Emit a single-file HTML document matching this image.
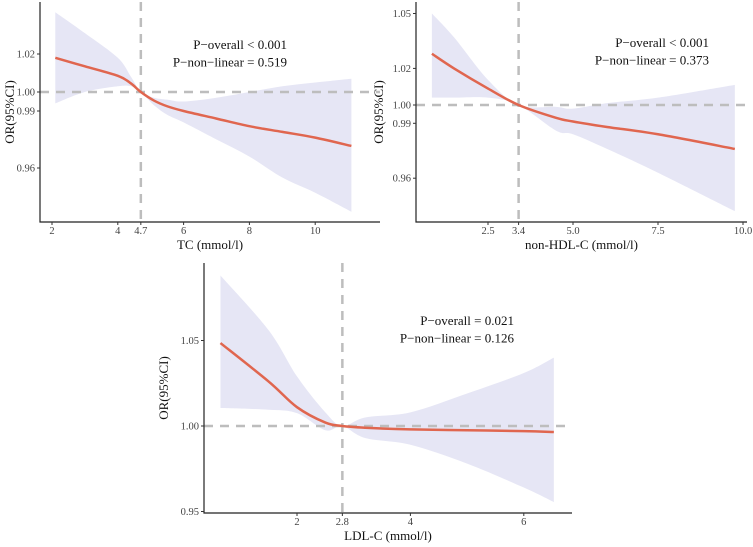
<!DOCTYPE html>
<html><head><meta charset="utf-8"><style>
body{margin:0;background:#fff;}
svg{display:block;font-family:"Liberation Serif",serif;}
</style></head><body>
<svg id="chart" width="753" height="547" viewBox="0 0 753 547"></svg>
<script>
const NS="http://www.w3.org/2000/svg";
const svg=document.getElementById('chart');

// Panel A: TC
const tcX=[2.1,3,4,4.4,4.7,5.1,5.5,6,7,8,9,10,11.1];
const tcOR=[1.018,1.0135,1.0085,1.0045,1.0,0.9955,0.9925,0.990,0.986,0.982,0.979,0.976,0.9716];
const tcUp=[1.042,1.031,1.018,1.008,1.0,0.997,0.996,0.995,0.997,1.0,1.003,1.005,1.007];
const tcLo=[0.994,1.0,1.003,1.003,1.0,0.993,0.988,0.984,0.975,0.966,0.955,0.947,0.937];
const tcXTicks=[2,4,4.7,6,8,10];
const tcYTicks=[0.96,0.99,1.00,1.02];

// Panel B: non-HDL-C
const nhX=[0.85,1.5,2.5,3.4,4.5,5,6,7.5,9.76];
const nhOR=[1.028,1.020,1.009,1.0,0.993,0.991,0.988,0.984,0.976];
const nhUp=[1.050,1.037,1.0137,1.0,0.999,0.998,1.001,1.004,1.011];
const nhLo=[1.004,1.004,1.004,1.0,0.986,0.984,0.976,0.963,0.942];
const nhXTicks=[2.5,3.4,5.0,7.5,10.0];
const nhYTicks=[0.96,0.99,1.00,1.02,1.05];

// Panel C: LDL-C
const ldX=[0.65,1.5,2,2.5,2.8,3.2,4,5,6,6.53];
const ldOR=[1.0485,1.026,1.011,1.002,1.0,0.999,0.998,0.9975,0.997,0.9965];
const ldUp=[1.088,1.056,1.029,1.008,1.0,1.005,1.008,1.019,1.031,1.040];
const ldLo=[1.0105,1.0095,1.0075,0.9975,1.0,0.993,0.989,0.978,0.964,0.9555];
const ldXTicks=[2,2.8,4,6];
const ldYTicks=[0.95,1.00,1.05];

function el(tag,attrs,parent){const e=document.createElementNS(NS,tag);for(const k in attrs)e.setAttribute(k,attrs[k]);(parent||svg).appendChild(e);return e;}
function smooth(pts){let d='M'+pts[0][0]+','+pts[0][1];for(let i=0;i<pts.length-1;i++){const p0=pts[i-1]||pts[i],p1=pts[i],p2=pts[i+1],p3=pts[i+2]||p2;const c1x=p1[0]+(p2[0]-p0[0])/6,c1y=p1[1]+(p2[1]-p0[1])/6,c2x=p2[0]-(p3[0]-p1[0])/6,c2y=p2[1]-(p3[1]-p1[1])/6;d+=` C${c1x},${c1y} ${c2x},${c2y} ${p2[0]},${p2[1]}`;}return d;}

function panel(cfg){
  const g=el('g',{});
  
  
  const X=v=>cfg.x0+(v-cfg.xv0)*cfg.xs, Y=v=>cfg.y1-(v-1)*cfg.ys;
  const up=cfg.xs_.map((v,i)=>[X(v),Y(cfg.up[i])]);
  const lo=cfg.xs_.map((v,i)=>[X(v),Y(cfg.lo[i])]).reverse();
  const band=el('path',{d:smooth(up)+' L'+smooth(lo).slice(1)+' Z',fill:'#e6e6f5'},g);
  
  
  const h=el('line',{x1:cfg.ax,x2:cfg.right,y1:Y(1),y2:Y(1),stroke:'#bdbdbd','stroke-width':2.5,'stroke-dasharray':'9,7'},g);
  
  
  const v=el('line',{x1:X(cfg.ref),x2:X(cfg.ref),y1:cfg.top,y2:cfg.bottom,stroke:'#bdbdbd','stroke-width':2.5,'stroke-dasharray':'9,7'},g);
  
  
  const ln=el('path',{d:smooth(cfg.xs_.map((x,i)=>[X(x),Y(cfg.or[i])])),fill:'none',stroke:'#e0664f','stroke-width':2.5},g);
  
  
  const axes=el('path',{d:`M${cfg.ax},${cfg.top} V${cfg.bottom} H${cfg.right}`,fill:'none',stroke:'#222','stroke-width':1.2},g);
  
  
  cfg.xt.forEach(t=>{
    el('line',{x1:X(t),x2:X(t),y1:cfg.bottom,y2:cfg.bottom+3,stroke:'#333'},g);
    const tx=el('text',{x:X(t),y:cfg.bottom+12,'font-size':10.5,fill:'#444','text-anchor':'middle'},g);
    tx.textContent=cfg.fmtX?t.toFixed(1):String(t);
    
    
  });
  cfg.yt.forEach(t=>{
    el('line',{x1:cfg.ax-3,x2:cfg.ax,y1:Y(t),y2:Y(t),stroke:'#333'},g);
    const tx=el('text',{x:cfg.ax-5,y:Y(t)+3.5,'font-size':10.5,fill:'#444','text-anchor':'end'},g);
    tx.textContent=t.toFixed(2);
    
    
  });
  const xt=el('text',{x:(cfg.ax+cfg.right)/2,y:cfg.bottom+27,'font-size':13,fill:'#111','text-anchor':'middle'},g);
  xt.textContent=cfg.xtitle;
  
  
  const yt=el('text',{x:0,y:0,'font-size':13,fill:'#111','text-anchor':'middle',transform:`translate(${cfg.ytx},${(cfg.top+cfg.bottom)/2}) rotate(-90)`},g);
  yt.textContent='OR(95%CI)';
  
  
  cfg.ann.forEach((s,i)=>{
    const a=el('text',{x:cfg.annX,y:cfg.annY+i*17.5,'font-size':13,fill:'#111','text-anchor':'end'},g);
    a.textContent=s;
    
    
  });
}

panel({name:'panel-tc',x0:52,xv0:2,xs:32.9,y1:92,ys:1900,ax:40,right:380,top:2,bottom:222,ref:4.7,
  xs_:tcX,or:tcOR,up:tcUp,lo:tcLo,xt:tcXTicks,yt:tcYTicks,xtitle:'TC (mmol/l)',ytx:14,
  ann:['P\u2212overall < 0.001','P\u2212non\u2212linear = 0.519'],annX:287,annY:49});
panel({name:'panel-non-hdl-c',x0:488,xv0:2.5,xs:34,y1:105,ys:1830,ax:416,right:747,top:2,bottom:222,ref:3.4,fmtX:true,
  xs_:nhX,or:nhOR,up:nhUp,lo:nhLo,xt:nhXTicks,yt:nhYTicks,xtitle:'non-HDL-C (mmol/l)',ytx:383,
  ann:['P\u2212overall < 0.001','P\u2212non\u2212linear = 0.373'],annX:709,annY:47});
panel({name:'panel-ldl-c',x0:297,xv0:2,xs:56.7,y1:426,ys:1710,ax:204,right:572,top:263,bottom:513,ref:2.8,
  xs_:ldX,or:ldOR,up:ldUp,lo:ldLo,xt:ldXTicks,yt:ldYTicks,xtitle:'LDL-C (mmol/l)',ytx:168,
  ann:['P\u2212overall = 0.021','P\u2212non\u2212linear = 0.126'],annX:514,annY:325});
</script>
</body></html>
